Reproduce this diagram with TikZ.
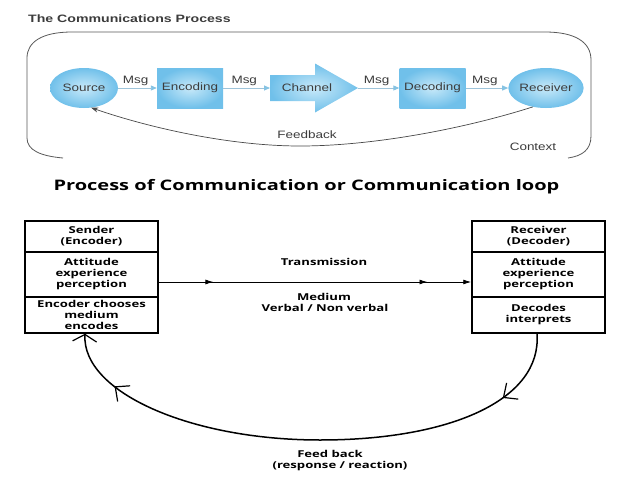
\documentclass[tikz,border=0pt]{standalone}
\usepackage{fontspec}
\setmainfont{Liberation Sans}
\newfontfamily\topfont[FakeStretch=1.26]{Liberation Sans}
\newfontfamily\toptitlefont[FakeStretch=1.32]{Liberation Sans}
\newfontfamily\botfont[FakeStretch=1.38]{Open Sans}
\usetikzlibrary{arrows.meta,decorations.markings,shapes.geometric}
\definecolor{boxin}{HTML}{C8E9F9}
\definecolor{boxout}{HTML}{70C0EA}
\definecolor{msgline}{HTML}{9EC4DA}
\definecolor{msgtip}{HTML}{86C3E3}
\definecolor{toptext}{HTML}{3C3C3C}
\definecolor{framecol}{HTML}{5A5A5A}
\tikzset{
  toptxt/.style={font=\topfont\fontsize{10.7}{12}\selectfont, text=toptext},
  blueell/.style={ellipse, minimum width=68pt, minimum height=40pt, inner sep=0pt,
    inner color=boxin, outer color=boxout, toptxt},
  bluebox/.style={rectangle, minimum width=66pt, minimum height=40pt, inner sep=0pt,
    inner color=boxin, outer color=boxout, toptxt},
  msgarrow/.style={draw=msgline, line width=0.9pt, -{Triangle[length=6pt,width=5pt,color=msgtip]}},
  msglabel/.style={toptxt, above, inner sep=1.5pt, pos=0.45},
  botfnt/.style={font=\botfont\bfseries\fontsize{9.5}{11}\selectfont},
  secbox/.style={draw, line width=1.5pt, minimum width=133pt, inner sep=0pt, align=center, botfnt},
  bottxt/.style={botfnt, align=center, inner sep=0pt},
  tline/.style={line width=0.9pt},
  ltip/.style={-{Latex[length=8pt,width=5pt]}},
  midbarb/.tip={Straight Barb[length=11pt,width=20pt,line width=1.2pt]},
  endbarb/.tip={Straight Barb[length=7pt,width=24pt,line width=1.2pt]},
}
\begin{document}
\begin{tikzpicture}[x=1pt,y=-1pt]
\fill[white] (0,0) rectangle (638,479);
\useasboundingbox (0,0) rectangle (638,479);

% ---------- top: The Communications Process ----------
\node[font=\toptitlefont\bfseries\fontsize{10.7}{12}\selectfont, text=toptext, anchor=west, inner sep=0pt] (toptitle) at (28,19) {The Communications Process};

\draw[framecol, line width=0.8pt] (63,158) .. controls (40,156) and (27,150) .. (27,138)
  -- (27,58) .. controls (27,42) and (42,32) .. (72,32) -- (545,32)
  .. controls (575,32) and (591,42) .. (591,60) -- (591,136)
  .. controls (591,150) and (582,156) .. (568,158);

\node[blueell] (Source) at (84,88) {Source};
\node[bluebox] (Encoding) at (190,88) {Encoding};
\shade[inner color=boxin, outer color=boxout] (270,75) -- (315,75) -- (315,63.5) -- (358,88)
  -- (315,112.5) -- (315,101) -- (270,101) -- cycle;
\coordinate (chtail) at (270,88);
\coordinate (chtip) at (358,88);
\node[toptxt, inner sep=0pt] (Channel) at (307,88) {Channel};
\node[bluebox] (Decoding) at (432.5,88) {Decoding};
\node[blueell] (Receiver) at (546,88) {Receiver};

\draw[msgarrow] (Source.east) -- (Encoding.west) node[msglabel] (m1) {Msg};
\draw[msgarrow] (Encoding.east) -- (chtail) node[msglabel] (m2) {Msg};
\draw[msgarrow] (chtip) -- (Decoding.west) node[msglabel] (m3) {Msg};
\draw[msgarrow] (Decoding.east) -- (Receiver.west) node[msglabel] (m4) {Msg};

\draw[framecol!80!black, line width=0.7pt, -{Stealth[length=7pt,width=5pt]}]
  (Receiver.235) .. controls (460,130) and (370,146) .. (300,146)
  .. controls (230,146) and (150,128) .. (Source.290);
\node[toptxt] (fbtop) at (307,135) {Feedback};
\node[toptxt] (context) at (533,147) {Context};

% ---------- bottom: Process of Communication ----------
\node[font=\botfont\bfseries\fontsize{14.5}{16}\selectfont, inner sep=0pt] (bottitle) at (306.5,187) {Process of Communication or Communication loop};

\node[secbox, minimum height=31pt] (shead) at (91.5,236.5) {Sender\\(Encoder)};
\node[secbox, minimum height=45pt] (satt) at (91.5,274.5) {Attitude\\experience\\perception};
\node[secbox, minimum height=36pt] (senc) at (91.5,315) {Encoder chooses\\medium\\encodes};

\node[secbox, minimum height=31pt] (rhead) at (538.5,236.5) {Receiver\\(Decoder)};
\node[secbox, minimum height=45pt] (ratt) at (538.5,274.5) {Attitude\\experience\\perception};
\node[secbox, minimum height=36pt] (renc) at (538.5,315) {Decodes\\interprets};

\draw[tline, ltip, postaction={decorate}, decoration={markings,
    mark=at position 0.175 with {\arrow{Latex[length=8pt,width=5pt]}},
    mark=at position 0.86 with {\arrow{Latex[length=8pt,width=5pt]}}}]
  ([yshift=-7.5pt]satt.east) -- ([yshift=-7.5pt]ratt.west);

\node[bottxt] (trans) at (324,262) {Transmission};
\node[bottxt] (medium) at (324,297) {Medium};
\node[bottxt] (verbal) at (325,308) {Verbal / Non verbal};

\draw[line width=1.5pt, -{endbarb},
  postaction={decorate}, decoration={markings,
    mark=at position 0.14 with {\arrow{midbarb}},
    mark=at position 0.885 with {\arrow{midbarb}}}]
  ([xshift=-1.5pt]renc.south) .. controls (542,400) and (450,440) .. (320,440)
  .. controls (190,440) and (82,392) .. ([xshift=-6.5pt]senc.south);

\node[bottxt] (fb1) at (330,454) {Feed back};
\node[bottxt] (fb2) at (340,466) {(response / reaction)};
\end{tikzpicture}
\end{document}
